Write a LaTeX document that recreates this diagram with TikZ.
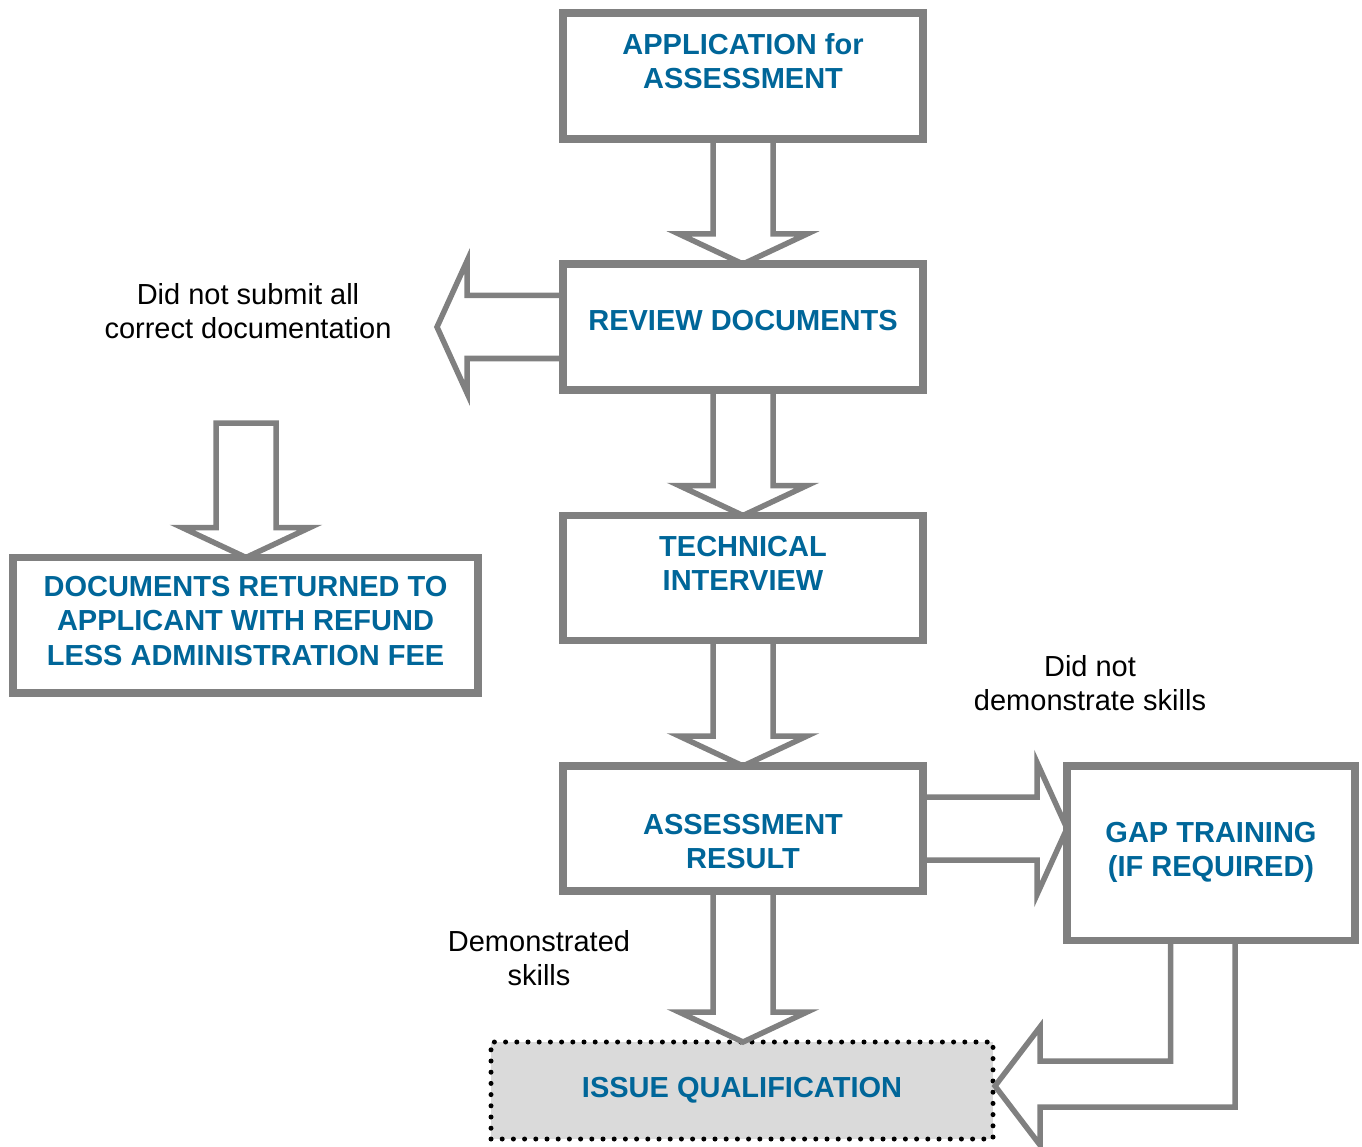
\documentclass[tikz,border=0pt]{standalone}
\usepackage{fontspec}
\setmainfont{Liberation Sans}
\usepackage{tikz}
\usetikzlibrary{calc, positioning}

\definecolor{boxgray}{RGB}{128,128,128}
\definecolor{stepblue}{RGB}{0,102,153}
\definecolor{issuegray}{RGB}{218,218,218}

% block arrow pointing down, from #1 to the tip #2
\newcommand{\downblock}[2]{%
  \draw[blockline] let \p1=#1, \p2=#2 in
    (\x1-30pt,\y1) -- (\x1-30pt,\y2+30pt) -- (\x1-64pt,\y2+30pt) -- (\x1,\y2)
    -- (\x1+64pt,\y2+30pt) -- (\x1+30pt,\y2+30pt) -- (\x1+30pt,\y1) -- cycle;}
% block arrow sideways, #3 = head length (negative when pointing left)
\newcommand{\sideblock}[3]{%
  \draw[blockline] let \p1=#1, \p2=#2 in
    (\x1,\y1+31.5pt) -- ({\x2-(#3)},\y1+31.5pt) -- ({\x2-(#3)},\y1+66pt) -- (\x2,\y1)
    -- ({\x2-(#3)},\y1-66pt) -- ({\x2-(#3)},\y1-31.5pt) -- (\x1,\y1-31.5pt) -- cycle;}

\begin{document}
\begin{tikzpicture}[x=1pt, y=-1pt,
	flowbox/.style={draw=boxgray, line width=7.3pt, inner sep=0pt, outer sep=0pt},
	boxtext/.style={text=stepblue, font=\bfseries\fontsize{29}{34.5}\selectfont, align=center},
	notetext/.style={font=\fontsize{29}{34}\selectfont, align=center},
	blockline/.style={draw=boxgray, line width=5.5pt},
	issuebox/.style={draw=black, fill=issuegray, line width=5pt, line cap=round,
		dash pattern=on 0pt off 11.2pt, inner sep=0pt, outer sep=0pt}]
		\useasboundingbox (0,0) rectangle (1362,1147);
		
		% Draw the boxes of the main column
		\node[flowbox, minimum width=360pt, minimum height=126pt] (apply) at (743,76) {};
		\node[flowbox, minimum width=360pt, minimum height=126pt] (review) at (743,327) {};
		\node[flowbox, minimum width=360pt, minimum height=125pt] (interview) at (743,578) {};
		\node[flowbox, minimum width=360pt, minimum height=125pt] (result) at (743,828.5) {};
		\node[issuebox, minimum width=502pt, minimum height=97pt] (issue) at (742,1090.5) {};
		% Side boxes
		\node[flowbox, minimum width=465pt, minimum height=135.5pt] (refund) at (245.5,625.25) {};
		\node[flowbox, minimum width=288pt, minimum height=174.5pt] (gap) at (1211,853.25) {};
		
		% Labels for boxes
		\node[boxtext] (apply-t) at (743,61) {APPLICATION for\\ASSESSMENT};
		\node[boxtext] (review-t) at (743,321) {REVIEW DOCUMENTS};
		\node[boxtext] (interview-t) at (743,563.5) {TECHNICAL\\INTERVIEW};
		\node[boxtext] (result-t) at (743,841.5) {ASSESSMENT\\RESULT};
		\node[boxtext] (issue-t) at (742,1090.5) {ISSUE QUALIFICATION};
		\node[boxtext] (refund-t) at (245.5,621) {DOCUMENTS RETURNED TO\\APPLICANT WITH REFUND\\LESS ADMINISTRATION FEE};
		\node[boxtext] (gap-t) at (1211,852.5) {GAP TRAINING\\(IF REQUIRED)};
		
		% Notes beside the arrows
		\node[notetext] (reject-n) at (248,311) {Did not submit all\\correct documentation};
		\node[notetext] (fail-n) at (1090,683) {Did not\\demonstrate skills};
		\node[notetext] (pass-n) at (539,958) {Demonstrated\\skills};
		
		% Draw the block arrows
		\downblock{(apply.south)}{(review.north)}
		\downblock{(review.south)}{(interview.north)}
		\downblock{(interview.south)}{(result.north)}
		\downblock{(result.south)}{(issue.north)}
		
		\coordinate (rejecttip) at (437,327);
		\sideblock{(review.west)}{(rejecttip)}{-30pt}
		\coordinate (refundtop) at (246,423);
		\downblock{(refundtop)}{(refund.north)}
		
		\sideblock{(result.east)}{(gap.west |- result.east)}{30pt}
		\draw[blockline] ([xshift=24pt]gap.south) |- (1040,1107) -- (1040,1145)
			-- ([xshift=2pt,yshift=4.5pt]issue.east) -- (1040,1027) -- (1040,1061)
			-| ([xshift=-40.5pt]gap.south) -- cycle;
\end{tikzpicture}
\end{document}
